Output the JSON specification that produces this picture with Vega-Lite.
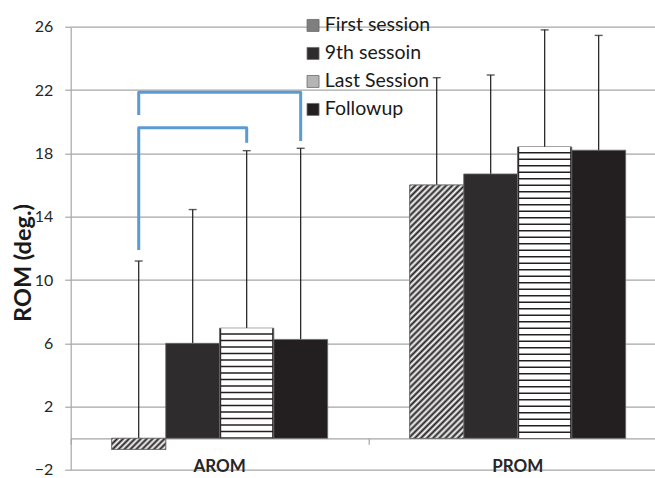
{
  "$schema": "https://vega.github.io/schema/vega-lite/v6.json",
  "width": 585,
  "height": 443.3,
  "autosize": "none",
  "padding": {"left": 70.7, "top": 26.7, "right": 0, "bottom": 8},
  "background": "white",
  "datasets": {
    "bars": [
      {"group": "AROM", "session": "First session", "value": -0.7, "upper": 11.2},
      {"group": "AROM", "session": "9th sessoin", "value": 6.0, "upper": 14.45},
      {"group": "AROM", "session": "Last Session", "value": 6.95, "upper": 18.17},
      {"group": "AROM", "session": "Followup", "value": 6.25, "upper": 18.32},
      {"group": "PROM", "session": "First session", "value": 16.0, "upper": 22.78},
      {"group": "PROM", "session": "9th sessoin", "value": 16.7, "upper": 22.95},
      {"group": "PROM", "session": "Last Session", "value": 18.4, "upper": 25.8},
      {"group": "PROM", "session": "Followup", "value": 18.2, "upper": 25.45}
    ],
    "brackets": [
      {"bracket": "outer", "group": "AROM", "session": "First session", "y": 20.42, "ord": 1},
      {"bracket": "outer", "group": "AROM", "session": "First session", "y": 21.86, "ord": 2},
      {"bracket": "outer", "group": "AROM", "session": "Followup", "y": 21.86, "ord": 3},
      {"bracket": "outer", "group": "AROM", "session": "Followup", "y": 18.78, "ord": 4},
      {"bracket": "inner", "group": "AROM", "session": "First session", "y": 11.9, "ord": 1},
      {"bracket": "inner", "group": "AROM", "session": "First session", "y": 19.62, "ord": 2},
      {"bracket": "inner", "group": "AROM", "session": "Last Session", "y": 19.62, "ord": 3},
      {"bracket": "inner", "group": "AROM", "session": "Last Session", "y": 18.67, "ord": 4}
    ]
  },
  "resolve": {"axis": {"x": "independent"}},
  "layer": [
    {
      "data": {"name": "bars"},
      "mark": {"type": "rule", "color": "#1a1a1a", "strokeWidth": 1.2},
      "encoding": {
        "x": {
          "field": "group", "type": "nominal",
          "scale": {"range": [0, 596], "paddingInner": 0, "paddingOuter": 0},
          "axis": {"orient": "top", "offset": -411.6, "labels": false, "title": null, "grid": false,
                   "domain": true, "domainColor": "#a6a6a6", "domainWidth": 1.2,
                   "ticks": true, "tickColor": "#a6a6a6", "tickSize": -6, "tickWidth": 1.2, "bandPosition": 0}
        },
        "xOffset": {"field": "session", "type": "nominal",
          "sort": ["First session", "9th sessoin", "Last Session", "Followup"],
          "scale": {"paddingOuter": 0.76, "paddingInner": 0}},
        "y": {
          "field": "value", "type": "quantitative",
          "scale": {"domain": [-2, 26], "nice": false, "zero": false},
          "axis": {"values": [-2, 2, 6, 10, 14, 18, 22, 26], "title": "ROM (deg.)",
                   "titleFontSize": 23.5, "titleFontWeight": "bold", "titleColor": "#1a1a1a",
                   "titleAngle": 270, "titleX": -47.2, "titleY": 235.8, "titleAlign": "center", "titleBaseline": "middle",
                   "labelFontSize": 16, "labelColor": "#262626", "labelPadding": 12,
                   "tickSize": 6, "tickColor": "#a6a6a6", "tickWidth": 1.2,
                   "domainColor": "#a6a6a6", "domainWidth": 1.2,
                   "grid": true, "gridColor": "#a6a6a6", "gridWidth": 1.2}
        },
        "y2": {"field": "upper"}
      }
    },
    {
      "data": {"name": "bars"},
      "mark": {"type": "bar", "stroke": "#6b6b6b", "strokeWidth": 0.8},
      "encoding": {
        "x": {"field": "group", "type": "nominal",
          "axis": {"orient": "bottom", "title": null, "domain": false, "ticks": false, "tickSize": 0, "grid": false,
                   "labelAngle": 0, "labelFontSize": 17, "labelFontWeight": "bold", "labelColor": "#262626",
                   "labelBaseline": "middle", "labelPadding": -3}},
        "xOffset": {"field": "session", "type": "nominal",
          "sort": ["First session", "9th sessoin", "Last Session", "Followup"]},
        "y": {"field": "value", "type": "quantitative"},
        "color": {
          "field": "session", "type": "nominal",
          "scale": {"domain": ["First session", "9th sessoin", "Last Session", "Followup"],
                    "range": ["#7f7f7f", "#2f2c2d", "#b4b4b4", "#231f20"]},
          "legend": {"title": null, "orient": "none", "legendX": 232.6, "legendY": -11,
                     "symbolType": "square", "symbolSize": 144, "labelFontSize": 19.5, "labelColor": "#1a1a1a",
                     "rowPadding": 7, "labelOffset": 2, "padding": 0, "symbolStrokeWidth": 0.8}
        }
      }
    },
    {
      "data": {"name": "bars"},
      "transform": [{"filter": "datum.group === 'PROM' && datum.session === 'First session'"}],
      "mark": {"type": "bar", "stroke": "#6b6b6b", "strokeWidth": 0.8,
        "fill": {"gradient": "linear", "x1": 0, "y1": 0, "x2": 0.2474, "y2": 1.1605, "stops": [
          {"offset": 0.00, "color": "#231f20"}, {"offset": 0.01, "color": "#ffffff"},
          {"offset": 0.02, "color": "#231f20"}, {"offset": 0.03, "color": "#ffffff"},
          {"offset": 0.04, "color": "#231f20"}, {"offset": 0.05, "color": "#ffffff"},
          {"offset": 0.06, "color": "#231f20"}, {"offset": 0.07, "color": "#ffffff"},
          {"offset": 0.08, "color": "#231f20"}, {"offset": 0.09, "color": "#ffffff"},
          {"offset": 0.10, "color": "#231f20"}, {"offset": 0.11, "color": "#ffffff"},
          {"offset": 0.12, "color": "#231f20"}, {"offset": 0.13, "color": "#ffffff"},
          {"offset": 0.14, "color": "#231f20"}, {"offset": 0.15, "color": "#ffffff"},
          {"offset": 0.16, "color": "#231f20"}, {"offset": 0.17, "color": "#ffffff"},
          {"offset": 0.18, "color": "#231f20"}, {"offset": 0.19, "color": "#ffffff"},
          {"offset": 0.20, "color": "#231f20"}, {"offset": 0.21, "color": "#ffffff"},
          {"offset": 0.22, "color": "#231f20"}, {"offset": 0.23, "color": "#ffffff"},
          {"offset": 0.24, "color": "#231f20"}, {"offset": 0.25, "color": "#ffffff"},
          {"offset": 0.26, "color": "#231f20"}, {"offset": 0.27, "color": "#ffffff"},
          {"offset": 0.28, "color": "#231f20"}, {"offset": 0.29, "color": "#ffffff"},
          {"offset": 0.30, "color": "#231f20"}, {"offset": 0.31, "color": "#ffffff"},
          {"offset": 0.32, "color": "#231f20"}, {"offset": 0.33, "color": "#ffffff"},
          {"offset": 0.34, "color": "#231f20"}, {"offset": 0.35, "color": "#ffffff"},
          {"offset": 0.36, "color": "#231f20"}, {"offset": 0.37, "color": "#ffffff"},
          {"offset": 0.38, "color": "#231f20"}, {"offset": 0.39, "color": "#ffffff"},
          {"offset": 0.40, "color": "#231f20"}, {"offset": 0.41, "color": "#ffffff"},
          {"offset": 0.42, "color": "#231f20"}, {"offset": 0.43, "color": "#ffffff"},
          {"offset": 0.44, "color": "#231f20"}, {"offset": 0.45, "color": "#ffffff"},
          {"offset": 0.46, "color": "#231f20"}, {"offset": 0.47, "color": "#ffffff"},
          {"offset": 0.48, "color": "#231f20"}, {"offset": 0.49, "color": "#ffffff"},
          {"offset": 0.50, "color": "#231f20"}, {"offset": 0.51, "color": "#ffffff"},
          {"offset": 0.52, "color": "#231f20"}, {"offset": 0.53, "color": "#ffffff"},
          {"offset": 0.54, "color": "#231f20"}, {"offset": 0.55, "color": "#ffffff"},
          {"offset": 0.56, "color": "#231f20"}, {"offset": 0.57, "color": "#ffffff"},
          {"offset": 0.58, "color": "#231f20"}, {"offset": 0.59, "color": "#ffffff"},
          {"offset": 0.60, "color": "#231f20"}, {"offset": 0.61, "color": "#ffffff"},
          {"offset": 0.62, "color": "#231f20"}, {"offset": 0.63, "color": "#ffffff"},
          {"offset": 0.64, "color": "#231f20"}, {"offset": 0.65, "color": "#ffffff"},
          {"offset": 0.66, "color": "#231f20"}, {"offset": 0.67, "color": "#ffffff"},
          {"offset": 0.68, "color": "#231f20"}, {"offset": 0.69, "color": "#ffffff"},
          {"offset": 0.70, "color": "#231f20"}, {"offset": 0.71, "color": "#ffffff"},
          {"offset": 0.72, "color": "#231f20"}, {"offset": 0.73, "color": "#ffffff"},
          {"offset": 0.74, "color": "#231f20"}, {"offset": 0.75, "color": "#ffffff"},
          {"offset": 0.76, "color": "#231f20"}, {"offset": 0.77, "color": "#ffffff"},
          {"offset": 0.78, "color": "#231f20"}, {"offset": 0.79, "color": "#ffffff"},
          {"offset": 0.80, "color": "#231f20"}, {"offset": 0.81, "color": "#ffffff"},
          {"offset": 0.82, "color": "#231f20"}, {"offset": 0.83, "color": "#ffffff"},
          {"offset": 0.84, "color": "#231f20"}, {"offset": 0.85, "color": "#ffffff"},
          {"offset": 0.86, "color": "#231f20"}, {"offset": 0.87, "color": "#ffffff"},
          {"offset": 0.88, "color": "#231f20"}, {"offset": 0.89, "color": "#ffffff"},
          {"offset": 0.90, "color": "#231f20"}, {"offset": 0.91, "color": "#ffffff"},
          {"offset": 0.92, "color": "#231f20"}, {"offset": 0.93, "color": "#ffffff"},
          {"offset": 0.94, "color": "#231f20"}, {"offset": 0.95, "color": "#ffffff"},
          {"offset": 0.96, "color": "#231f20"}, {"offset": 0.97, "color": "#ffffff"},
          {"offset": 0.98, "color": "#231f20"}, {"offset": 0.99, "color": "#ffffff"},
          {"offset": 1.00, "color": "#231f20"}
        ]}},
      "encoding": {
        "x": {"field": "group", "type": "nominal", "axis": null},
        "xOffset": {"field": "session", "type": "nominal",
          "sort": ["First session", "9th sessoin", "Last Session", "Followup"]},
        "y": {"field": "value", "type": "quantitative"}
      }
    },
    {
      "data": {"name": "bars"},
      "transform": [{"filter": "datum.group === 'AROM' && datum.session === 'First session'"}],
      "mark": {"type": "bar", "stroke": "#6b6b6b", "strokeWidth": 0.8,
        "fill": {"gradient": "linear", "x1": 0, "y1": 0, "x2": 1.1565, "y2": 0.2373, "stops": [
          {"offset": 0.0000, "color": "#231f20"}, {"offset": 0.0455, "color": "#ffffff"},
          {"offset": 0.0909, "color": "#231f20"}, {"offset": 0.1364, "color": "#ffffff"},
          {"offset": 0.1818, "color": "#231f20"}, {"offset": 0.2273, "color": "#ffffff"},
          {"offset": 0.2727, "color": "#231f20"}, {"offset": 0.3182, "color": "#ffffff"},
          {"offset": 0.3636, "color": "#231f20"}, {"offset": 0.4091, "color": "#ffffff"},
          {"offset": 0.4545, "color": "#231f20"}, {"offset": 0.5000, "color": "#ffffff"},
          {"offset": 0.5455, "color": "#231f20"}, {"offset": 0.5909, "color": "#ffffff"},
          {"offset": 0.6364, "color": "#231f20"}, {"offset": 0.6818, "color": "#ffffff"},
          {"offset": 0.7273, "color": "#231f20"}, {"offset": 0.7727, "color": "#ffffff"},
          {"offset": 0.8182, "color": "#231f20"}, {"offset": 0.8636, "color": "#ffffff"},
          {"offset": 0.9091, "color": "#231f20"}, {"offset": 0.9545, "color": "#ffffff"},
          {"offset": 1.0000, "color": "#231f20"}
        ]}},
      "encoding": {
        "x": {"field": "group", "type": "nominal", "axis": null},
        "xOffset": {"field": "session", "type": "nominal",
          "sort": ["First session", "9th sessoin", "Last Session", "Followup"]},
        "y": {"field": "value", "type": "quantitative"}
      }
    },
    {
      "data": {"name": "bars"},
      "transform": [{"filter": "datum.session === 'Last Session'"}],
      "mark": {"type": "bar", "fill": "#231f20", "stroke": "#6b6b6b", "strokeWidth": 0.8},
      "encoding": {
        "x": {"field": "group", "type": "nominal", "axis": null},
        "xOffset": {"field": "session", "type": "nominal",
          "sort": ["First session", "9th sessoin", "Last Session", "Followup"]},
        "y": {"field": "value", "type": "quantitative"}
      }
    },
    {
      "data": {"name": "bars"},
      "transform": [{"filter": "datum.session === 'Last Session'"}],
      "mark": {"type": "rule", "color": "#ffffff", "strokeWidth": 51, "strokeDash": [5, 1.5]},
      "encoding": {
        "x": {"field": "group", "type": "nominal", "axis": null},
        "xOffset": {"field": "session", "type": "nominal",
          "sort": ["First session", "9th sessoin", "Last Session", "Followup"]},
        "y": {"field": "value", "type": "quantitative"},
        "y2": {"datum": 0}
      }
    },
    {
      "data": {"name": "bars"},
      "mark": {"type": "tick", "color": "#1a1a1a", "thickness": 1.4, "size": 8},
      "encoding": {
        "x": {"field": "group", "type": "nominal", "axis": null},
        "xOffset": {"field": "session", "type": "nominal",
          "sort": ["First session", "9th sessoin", "Last Session", "Followup"]},
        "y": {"field": "upper", "type": "quantitative"}
      }
    },
    {
      "data": {"name": "brackets"},
      "mark": {"type": "line", "color": "#5b9bd5", "strokeWidth": 3, "strokeJoin": "round"},
      "encoding": {
        "x": {"field": "group", "type": "nominal", "axis": null},
        "xOffset": {"field": "session", "type": "nominal",
          "sort": ["First session", "9th sessoin", "Last Session", "Followup"]},
        "y": {"field": "y", "type": "quantitative"},
        "detail": {"field": "bracket"},
        "order": {"field": "ord", "type": "quantitative"}
      }
    }
  ],
  "config": {
    "font": "Lato",
    "view": {"stroke": null},
    "axis": {"labelFont": "Lato", "titleFont": "Lato"},
    "legend": {"labelFont": "Lato"}
  }
}
